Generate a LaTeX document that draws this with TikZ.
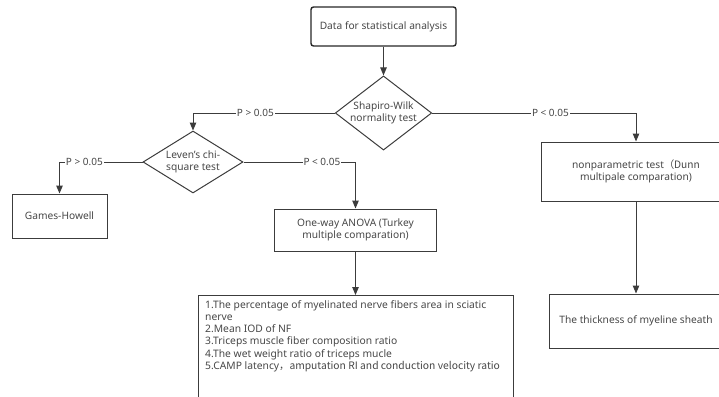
\documentclass[tikz,border=0pt]{standalone}
\usepackage{fontspec}
\setmainfont{Noto Sans}
\newfontfamily\cjk{Noto Sans CJK SC}
\usetikzlibrary{shapes.geometric,arrows.meta}
\definecolor{ln}{HTML}{3C3C3C}
\definecolor{tx}{HTML}{474747}
\tikzset{
  base/.style={draw=ln, line width=1pt, text=tx, inner sep=0pt, align=center,
    font=\fontsize{10.2}{12.6}\selectfont},
  box/.style={base, rectangle},
  dec/.style={base, diamond},
  conn/.style={draw=ln, line width=1pt, -{Triangle[length=8pt,width=6.5pt]}},
  lbl/.style={fill=white, text=tx, inner sep=1pt, font=\fontsize{10}{11}\selectfont}
}
\begin{document}
\begin{tikzpicture}[x=1pt,y=-1pt]
\useasboundingbox (0,0) rectangle (719,396);
\clip (0,0) rectangle (719,396);
\node[box, rounded corners=2.5pt, line width=1.4pt, draw=black!85, minimum width=145pt, minimum height=39pt] (data) at (383.5,26.5) {Data for statistical analysis};
\node[dec, shape aspect=1.3, minimum width=95pt, minimum height=72pt] (sw) at (383.5,113) {Shapiro-Wilk\\normality test};
\node[dec, shape aspect=1.6, minimum width=100pt, minimum height=62pt] (lev) at (193,162) {Leven's chi-\\square test};
\node[box, minimum width=95pt, minimum height=44pt] (gh) at (59.5,216) {Games-Howell};
\node[box, minimum width=162pt, minimum height=42pt] (anova) at (355.5,230) {One-way ANOVA (Turkey\\multiple comparation)};
\node[box, minimum width=190pt, minimum height=59pt] (np) at (636,171.5) {nonparametric test\cjk{（}Dunn\\multipale comparation)};
\node[box, minimum width=174pt, minimum height=54pt] (th) at (636,321) {The thickness of myeline sheath};
\node[box, minimum width=315pt, minimum height=104pt, anchor=north west] (list) at (198,295) {};
\node[text=tx, anchor=north west, align=left, inner sep=0pt, font=\fontsize{10.3}{12.3}\selectfont] (listtxt) at (205,300) {1.The percentage of myelinated nerve fibers area in sciatic\\nerve\\2.Mean IOD of NF\\3.Triceps muscle fiber composition ratio\\4.The wet weight ratio of triceps mucle\\5.CAMP latency\cjk{，}amputation RI and conduction velocity ratio};
\draw[conn] (data.south) -- (sw.north);
\draw[conn] (sw.west) -| node[lbl, pos=0.28] {P > 0.05} (lev.north);
\draw[conn] (sw.east) -| node[lbl, pos=0.29] {P < 0.05} (np.north);
\draw[conn] (lev.west) -| node[lbl, pos=0.35] {P > 0.05} (gh.north);
\draw[conn] (lev.east) -| node[lbl, pos=0.35] {P < 0.05} (anova.north);
\draw[conn] (anova.south) -- (anova.south |- list.north);
\draw[conn] (np.south) -- (th.north);
\end{tikzpicture}
\end{document}
